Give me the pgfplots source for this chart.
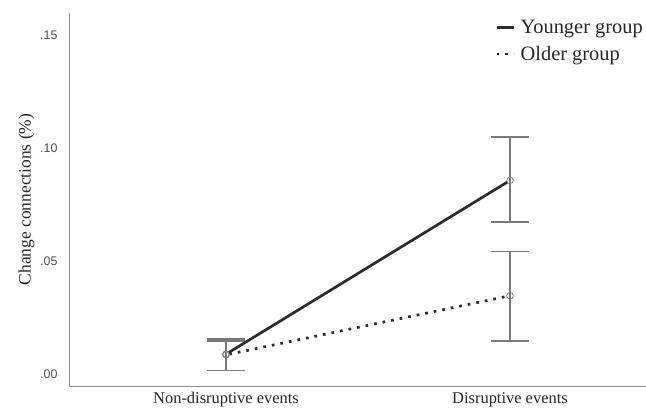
\documentclass[border=0pt]{standalone}
\usepackage{pgfplots}
\pgfplotsset{compat=1.18}
\usepackage{fontspec}
\setmainfont{Liberation Serif}
\newfontfamily\tickfont{Liberation Sans}
\definecolor{axgray}{HTML}{8C8C8C}
\definecolor{ebgray}{HTML}{7A7A7A}
\definecolor{lndark}{HTML}{2B2B2B}
\begin{document}
\begin{tikzpicture}
\path[use as bounding box] (-69bp,-28bp) rectangle (577bp,386bp);
\begin{axis}[
  at={(0,0)}, anchor=south west,
  scale only axis, width=577bp, height=373bp,
  xmin=0.447, xmax=2.479,
  ymin=-0.0053, ymax=0.16,
  axis x line*=bottom, axis y line*=left,
  axis line style={axgray, line width=0.9bp, -},
  xtick={1,2}, xticklabels={Non-disruptive events, Disruptive events},
  ytick={0,0.05,0.1,0.15}, yticklabels={.00,.05,.10,.15},
  major tick length=0pt,
  xticklabel style={font=\fontsize{16.5}{19}\selectfont, text=black!85, yshift=-3bp},
  yticklabel style={font=\tickfont\fontsize{12.5}{14}\selectfont, text=black!70, xshift=-8bp},
  /pgf/number format/assume math mode=true,
  ylabel={Change connections (\%)},
  ylabel style={font=\fontsize{17.5}{20}\selectfont, text=black!85, yshift=-1bp},
  clip=false,
  legend style={draw=none, fill=none, at={(1,1)}, anchor=north east, xshift=0bp, yshift=-4bp,
    font=\fontsize{20.5}{22}\selectfont, text=black!85, row sep=7bp, inner sep=1bp},
  legend cell align=left,
  legend image code/.code={\draw[#1] (0bp,0bp) -- (24bp,0bp);},
]
% error bars and mean markers
\addplot[forget plot, draw=none, mark=o, mark size=3.3bp, mark options={ebgray, line width=0.8bp},
  error bars/.cd, y dir=both, y explicit,
  error bar style={ebgray, line width=1.4bp},
  error mark options={ebgray, line width=1.4bp, mark size=19bp, rotate=90}]
  coordinates {(1,0.0088) += (0,0.0067) -= (0,0.0073) (2,0.0858) += (0,0.0192) -= (0,0.0185)};
\addplot[forget plot, draw=none, mark=o, mark size=3.3bp, mark options={ebgray, line width=0.8bp},
  error bars/.cd, y dir=both, y explicit,
  error bar style={ebgray, line width=1.4bp},
  error mark options={ebgray, line width=1.4bp, mark size=19bp, rotate=90}]
  coordinates {(1,0.0085) += (0,0.0061) -= (0,0.0070) (2,0.0347) += (0,0.0197) -= (0,0.0200)};
% lines
\addplot[lndark, line width=2.7bp, no marks, shorten >=3.3bp, shorten <=3.3bp] coordinates {(1,0.0088) (2,0.0858)};
\addlegendentry{Younger group}
\addplot[lndark, line width=2.7bp, no marks, dash pattern=on 2.7bp off 6bp, shorten >=3.3bp, shorten <=3.3bp] coordinates {(1,0.0085) (2,0.0347)};
\addlegendentry{Older group}
\end{axis}
\end{tikzpicture}
\end{document}
